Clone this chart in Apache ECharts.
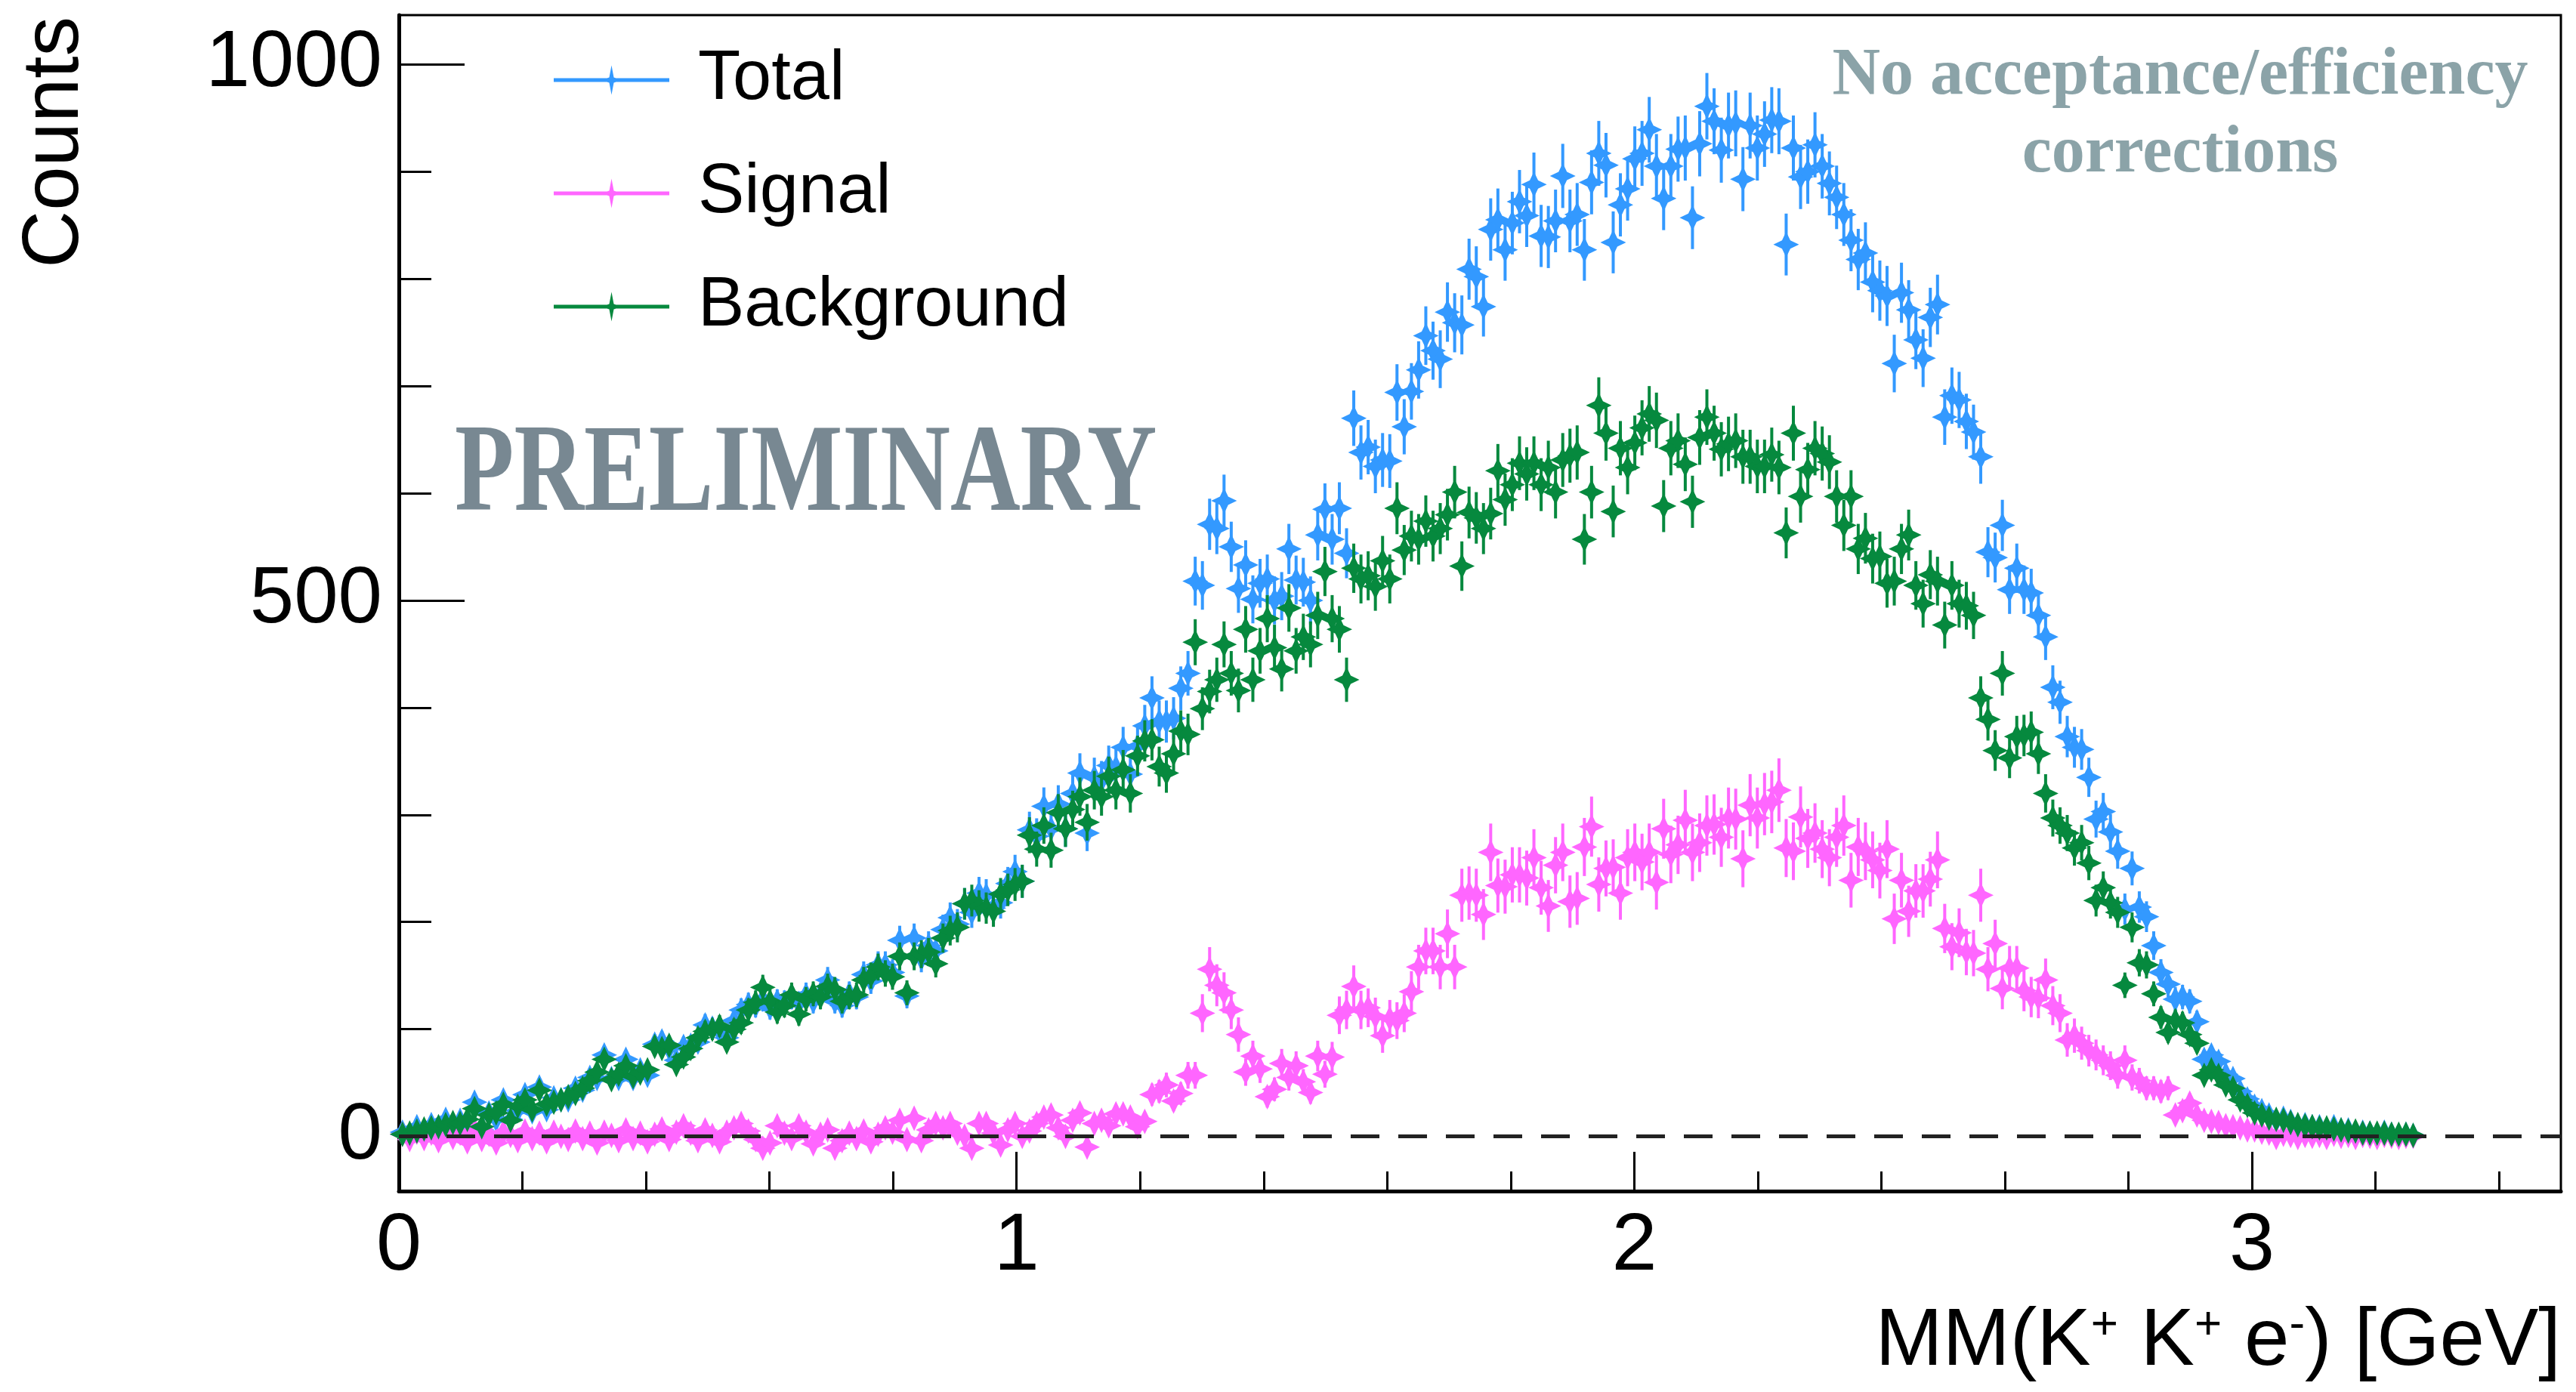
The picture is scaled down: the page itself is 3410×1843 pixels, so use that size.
<!DOCTYPE html>
<html>
<head>
<meta charset="utf-8">
<title>MM(K+ K+ e-)</title>
<script src="https://cdn.jsdelivr.net/npm/echarts@6/dist/echarts.min.js"></script>
<style>
  html, body { margin: 0; padding: 0; background: #ffffff; }
  #chart { width: 3410px; height: 1843px; }
</style>
</head>
<body>
<div id="chart"></div>
<script>
// Histogram binning: 300 bins over 0 - 3.5 GeV
const BIN_WIDTH = 3.5 / 300;

const seriesNames = ['Total', 'Signal', 'Background'];

// Counts per bin, starting at the first bin (0 GeV)
const total = [
  4, 0, 9, 5, 11, 5, 16, 12, 15, 11,
  32, 6, 22, 16, 34, 16, 24, 39, 23, 46,
  25, 36, 34, 34, 45, 43, 55, 54, 76, 54,
  54, 72, 54, 62, 57, 86, 89, 82, 71, 84,
  85, 88, 104, 101, 98, 92, 108, 118, 123, 122,
  128, 120, 126, 125, 130, 124, 132, 126, 132, 146,
  126, 122, 133, 130, 151, 145, 160, 160, 153, 183,
  131, 185, 166, 178, 173, 193, 204, 198, 217, 209,
  227, 225, 213, 218, 236, 247, 238, 286, 280, 308,
  287, 310, 287, 320, 339, 283, 335, 332, 346, 344,
  363, 338, 364, 383, 409, 387, 387, 390, 418, 432,
  518, 514, 571, 567, 593, 550, 511, 533, 501, 516,
  520, 500, 504, 548, 519, 517, 500, 561, 585, 557,
  586, 544, 670, 638, 643, 625, 631, 630, 694, 662,
  695, 715, 747, 733, 725, 769, 759, 757, 809, 802,
  774, 846, 855, 827, 852, 872, 859, 888, 840, 839,
  854, 896, 854, 860, 827, 890, 917, 906, 834, 869,
  884, 912, 917, 939, 905, 875, 905, 921, 922, 857,
  926, 961, 947, 920, 943, 945, 893, 943, 922, 935,
  948, 947, 832, 922, 895, 900, 925, 905, 889, 876,
  860, 836, 818, 824, 797, 789, 784, 721, 787, 771,
  743, 726, 764, 776, 671, 691, 687, 667, 657, 634,
  545, 540, 570, 510, 530, 510, 507, 486, 466, 419,
  405, 373, 363, 361, 335, 296, 303, 284, 266, 212,
  250, 214, 205, 178, 153, 142, 128, 130, 126, 107,
  72, 76, 70, 58, 54, 42, 35, 28, 24, 20,
  15, 17, 14, 10, 11, 9, 9, 7, 9, 6,
  6, 4, 4, 3, 2, 4, 2, 1, 2, 1
];

const signal = [
  2, -3, 4, -2, 3, -4, 5, -1, 3, -5,
  6, -3, 2, -6, 4, 1, -4, 5, -2, 3,
  -5, 4, 0, -3, 5, -2, 3, -6, 4, 1,
  -4, 6, -2, 3, -5, 2, 7, -3, 4, 10,
  3, -4, 6, 1, -5, 4, 8, 12, 5, -3,
  -11, -6, 10, 3, -2, 10, 4, -7, 2, 6,
  -11, -4, 3, -2, 5, -5, 2, 8, 4, 15,
  -3, 17, -4, 6, 12, 8, 12, 3, 0, -11,
  12, 12, 3, -8, 6, 12, 0, 5, 12, 18,
  20, 8, 0, 15, 22, -10, 12, 15, 10, 21,
  21, 18, 9, 14, 39, 42, 48, 33, 40, 57,
  57, 115, 156, 141, 134, 118, 95, 60, 75, 63,
  37, 44, 68, 55, 66, 51, 41, 75, 58, 74,
  113, 118, 140, 118, 120, 112, 94, 110, 108, 115,
  135, 158, 173, 173, 158, 189, 158, 225, 227, 225,
  207, 265, 234, 233, 244, 244, 241, 260, 232, 215,
  253, 265, 219, 222, 270, 289, 235, 250, 251, 227,
  260, 265, 256, 265, 237, 287, 263, 272, 295, 265,
  274, 290, 291, 279, 297, 296, 259, 309, 297, 310,
  312, 323, 269, 266, 298, 278, 283, 268, 260, 279,
  290, 239, 270, 266, 258, 248, 268, 203, 239, 210,
  229, 229, 240, 258, 194, 177, 190, 172, 171, 225,
  156, 180, 138, 157, 157, 136, 130, 129, 146, 122,
  115, 90, 94, 87, 80, 76, 71, 66, 57, 71,
  55, 52, 45, 45, 42, 45, 20, 24, 31, 20,
  15, 14, 13, 10, 9, 8, 6, 6, 4, 3,
  -1, 2, 1, -1, 1, 0, 1, -1, 2, 0,
  1, -1, 1, 0, -1, 1, 0, -1, 0, 0
];

const background = [
  2, 3, 5, 7, 8, 9, 11, 13, 12, 16,
  26, 9, 20, 22, 30, 15, 28, 34, 25, 43,
  30, 32, 34, 37, 40, 45, 52, 60, 72, 53,
  58, 66, 56, 59, 62, 84, 82, 85, 67, 74,
  82, 92, 98, 100, 103, 88, 100, 106, 118, 125,
  139, 126, 116, 122, 132, 114, 128, 133, 130, 140,
  137, 126, 130, 132, 146, 150, 158, 152, 149, 168,
  134, 168, 170, 172, 161, 185, 192, 195, 217, 220,
  215, 213, 210, 226, 230, 235, 238, 281, 268, 290,
  267, 302, 287, 305, 317, 293, 323, 317, 336, 323,
  342, 320, 355, 369, 370, 345, 339, 357, 378, 375,
  461, 399, 415, 426, 459, 432, 416, 473, 426, 453,
  483, 456, 436, 493, 453, 466, 459, 486, 527, 483,
  473, 426, 530, 520, 523, 513, 537, 520, 586, 547,
  560, 557, 574, 560, 567, 580, 601, 532, 582, 577,
  567, 581, 621, 594, 608, 628, 618, 628, 608, 624,
  601, 631, 635, 638, 557, 601, 682, 656, 583, 642,
  624, 647, 661, 674, 668, 588, 642, 649, 627, 592,
  652, 671, 656, 641, 646, 649, 634, 634, 625, 625,
  636, 624, 563, 656, 597, 622, 642, 637, 629, 597,
  570, 597, 548, 558, 539, 541, 516, 518, 548, 561,
  514, 497, 524, 518, 477, 514, 497, 495, 486, 409,
  389, 360, 432, 353, 373, 374, 377, 357, 320, 297,
  290, 283, 269, 274, 255, 220, 232, 218, 209, 141,
  195, 162, 160, 133, 111, 97, 108, 106, 95, 87,
  57, 62, 57, 48, 45, 34, 29, 22, 20, 17,
  16, 15, 13, 11, 10, 9, 8, 8, 7, 6,
  5, 5, 3, 3, 3, 3, 2, 2, 2, 1
];

// Axis ticks and labels
const xMajorTicks = [0, 1, 2, 3];
const xMinorTicks = [0, 0.2, 0.4, 0.6, 0.8, 1, 1.2, 1.4, 1.6, 1.8, 2, 2.2, 2.4, 2.6, 2.8, 3, 3.2, 3.4];
const yMajorTicks = [0, 500, 1000];
const yMinorTicks = [0, 100, 200, 300, 400, 500, 600, 700, 800, 900, 1000];

const COLORS = { Total: '#3399ff', Signal: '#ff66ff', Background: '#06893e' };
const FONT = '"Liberation Sans", Arial, Helvetica, sans-serif';
const SERIF = '"Liberation Serif", "Times New Roman", serif';

// Four-pointed star marker (pixel offsets around the point)
const STAR = [[0, -17], [5.5, -5.5], [17, 0], [5.5, 5.5], [0, 17], [-5.5, 5.5], [-17, 0], [-5.5, -5.5]];

// Legend sample: horizontal line with a small star on it
const LEGEND_ICON = 'path://M0,17 L153,17 L153,22 L0,22 Z M76.5,0 L79.5,16 L90,19.5 L79.5,23 L76.5,39 L73.5,23 L63,19.5 L73.5,16 Z';

// Points with statistical error bars
function histSeries(name, counts, errScale, z) {
  const color = COLORS[name];
  return {
    name: name,
    type: 'custom',
    z: z,
    xAxisIndex: 0,
    yAxisIndex: 0,
    itemStyle: { color: color },
    data: counts.map((v, i) => [(i + 0.5) * BIN_WIDTH, v, errScale * Math.sqrt(Math.abs(v))]),
    encode: { x: 0, y: 1 },
    renderItem: function (params, api) {
      const x = api.value(0);
      const y = api.value(1);
      const e = api.value(2);
      const c = api.coord([x, y]);
      const hi = api.coord([x, y + e]);
      const lo = api.coord([x, y - e]);
      return {
        type: 'group',
        children: [
          { type: 'line', shape: { x1: c[0], y1: hi[1], x2: c[0], y2: lo[1] },
            style: { stroke: color, lineWidth: 4 } },
          { type: 'polygon', shape: { points: STAR.map(p => [c[0] + p[0], c[1] + p[1]]) },
            style: { fill: color } }
        ]
      };
    }
  };
}

const chart = echarts.init(document.getElementById('chart'), null, { renderer: 'canvas' });

const bgSeries = histSeries('Background', background, 1.0, 4);
bgSeries.markLine = {
  silent: true,
  symbol: 'none',
  label: { show: false },
  lineStyle: { color: '#222222', width: 5, type: [38, 25] },
  data: [{ yAxis: 0 }]
};

chart.setOption({
  animation: false,
  backgroundColor: '#ffffff',
  grid: {
    left: 528, right: 20, top: 20, bottom: 266,
    show: true, borderColor: '#000000', borderWidth: 3, backgroundColor: 'transparent'
  },
  legend: {
    orient: 'vertical',
    left: 733,
    top: 60,
    padding: 0,
    itemGap: 58,
    itemWidth: 153,
    itemHeight: 39,
    selectedMode: false,
    textStyle: { fontFamily: FONT, fontSize: 92, lineHeight: 92, color: '#000000', padding: [0, 0, 0, 33] },
    data: seriesNames.map(n => ({ name: n, icon: LEGEND_ICON }))
  },
  xAxis: [
    {
      type: 'value', min: 0, max: 3.5, position: 'bottom',
      axisLine: { show: true, onZero: false, lineStyle: { color: '#000000', width: 5 } },
      axisTick: { show: true, inside: true, length: 26, customValues: xMinorTicks,
        lineStyle: { color: '#000000', width: 3 } },
      axisLabel: { show: false },
      splitLine: { show: false }
    },
    {
      type: 'value', min: 0, max: 3.5, position: 'bottom',
      axisLine: { show: false, onZero: false },
      axisTick: { show: true, inside: true, length: 52, customValues: xMajorTicks,
        lineStyle: { color: '#000000', width: 3 } },
      axisLabel: { show: true, customValues: xMajorTicks, margin: 20,
        formatter: v => String(v),
        fontFamily: FONT, fontSize: 108, color: '#000000' },
      splitLine: { show: false }
    }
  ],
  yAxis: [
    {
      type: 'value', min: -51, max: 1046, position: 'left',
      axisLine: { show: true, onZero: false, lineStyle: { color: '#000000', width: 5 } },
      axisTick: { show: true, inside: true, length: 43, customValues: yMinorTicks,
        lineStyle: { color: '#000000', width: 3 } },
      axisLabel: { show: false },
      splitLine: { show: false }
    },
    {
      type: 'value', min: -51, max: 1046, position: 'left',
      axisLine: { show: false, onZero: false },
      axisTick: { show: true, inside: true, length: 87, customValues: yMajorTicks,
        lineStyle: { color: '#000000', width: 3 } },
      axisLabel: { show: true, customValues: yMajorTicks, margin: 22,
        formatter: v => String(v),
        fontFamily: FONT, fontSize: 105, color: '#000000' },
      splitLine: { show: false }
    }
  ],
  graphic: [
    {
      type: 'text', x: 74, y: 22, rotation: Math.PI / 2, z: 10,
      style: { text: 'Counts', fontFamily: FONT, fontSize: 105, fill: '#000000',
        align: 'right', verticalAlign: 'middle' }
    },
    {
      type: 'text', x: 3390, y: 1777, z: 10,
      style: {
        text: 'MM(K{sup|+} K{sup|+} e{sup|-}) [GeV]',
        fontFamily: FONT, fontSize: 107, fill: '#000000',
        align: 'right', verticalAlign: 'middle',
        rich: { sup: { fontFamily: FONT, fontSize: 62, lineHeight: 62, verticalAlign: 'top', fill: '#000000' } }
      }
    },
    {
      type: 'text', x: 602, y: 632, scaleX: 0.773, z: 10,
      style: { text: 'PRELIMINARY', fontFamily: SERIF, fontWeight: 'bold', fontSize: 166,
        fill: '#788892', align: 'left', verticalAlign: 'middle' }
    },
    {
      type: 'text', x: 2886, y: 101, z: 10,
      style: { text: 'No acceptance/efficiency', fontFamily: SERIF, fontWeight: 'bold', fontSize: 88,
        fill: '#8ba3a8', align: 'center', verticalAlign: 'middle' }
    },
    {
      type: 'text', x: 2886, y: 204, z: 10,
      style: { text: 'corrections', fontFamily: SERIF, fontWeight: 'bold', fontSize: 88,
        fill: '#8ba3a8', align: 'center', verticalAlign: 'middle' }
    }
  ],
  series: [
    histSeries('Total', total, 1.0, 2),
    histSeries('Signal', signal, 1.65, 3),
    bgSeries
  ]
});
</script>
</body>
</html>
